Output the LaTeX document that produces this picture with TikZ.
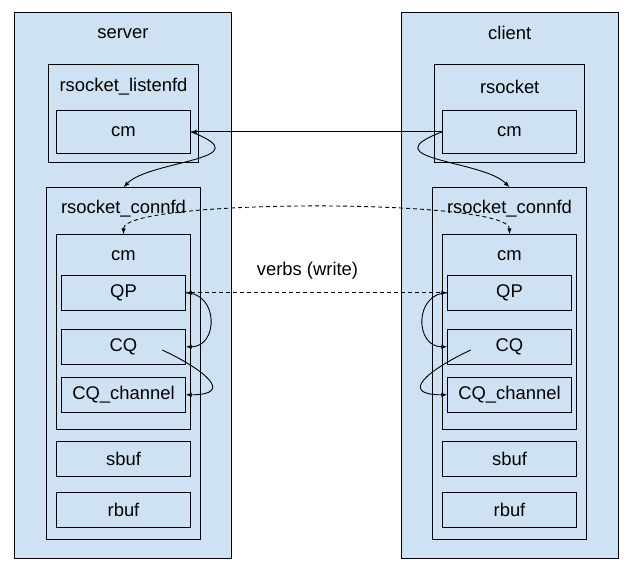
\documentclass[tikz,border=0pt]{standalone}
\usepackage{fontspec}
\setmainfont{Liberation Sans}
\usetikzlibrary{arrows.meta,calc}
\definecolor{boxfill}{HTML}{CFE2F3}
\begin{document}
\begin{tikzpicture}[x=1pt,y=-1pt,
  font=\fontsize{18.4}{22}\selectfont,
  box/.style={draw=black, line width=1pt, fill=boxfill, rectangle,
              inner sep=0pt, outer sep=0pt},
  host/.style={box, minimum width=217pt, minimum height=546pt},
  sock/.style={box, minimum width=150.5pt, minimum height=98pt},
  conn/.style={box, minimum width=154.4pt, minimum height=352pt},
  cmbox/.style={box, minimum width=134.4pt, minimum height=43pt},
  cmgroup/.style={box, minimum width=134.4pt, minimum height=195pt},
  queue/.style={box, minimum width=124.4pt, minimum height=35pt},
  buf/.style={box, minimum width=134.4pt, minimum height=35pt},
  title/.style={inner sep=0pt, anchor=center},
  tip/.tip={Latex[length=6pt,width=4.5pt]},
  link/.style={line width=0.9pt, -tip},
  both/.style={line width=0.9pt, tip-tip, dash pattern=on 4pt off 3pt}
]
\useasboundingbox (0,0) rectangle (634,573);

% ---- server side ----
\node[host] (S) at (123,285) {};
\node[title] (ST) at (123,33.3) {server};
\node[sock] (SL) at (123.5,113.3) {};
\node[title] (SLT) at (123.5,86.5) {rsocket\_listenfd};
\node[cmbox] (Scm) at (123.5,131.8) {cm};
\node[conn] (SC) at (123.5,363.3) {};
\node[title] (SCT) at (123.5,209) {rsocket\_connfd};
\node[cmgroup] (Scm2) at (123.5,331.8) {};
\node[title] (Scm2T) at (123.5,256) {cm};
\node[queue] (Sqp) at (123.5,292.8) {QP};
\node[queue] (Scq) at (123.5,346.8) {CQ};
\node[queue] (Sch) at (123.5,394.8) {CQ\_channel};
\node[buf] (Ssb) at (123.5,458.8) {sbuf};
\node[buf] (Srb) at (123.5,509.8) {rbuf};

% ---- client side ----
\node[host] (C) at (509.7,285) {};
\node[title] (CT) at (509.7,33.3) {client};
\node[sock] (CL) at (509.7,113.3) {};
\node[title] (CLT) at (509.7,86.5) {rsocket};
\node[cmbox] (Ccm) at (509.5,131.8) {cm};
\node[conn] (CC) at (509.5,363.3) {};
\node[title] (CCT) at (509.5,209) {rsocket\_connfd};
\node[cmgroup] (Ccm2) at (509.5,331.8) {};
\node[title] (Ccm2T) at (509.5,256) {cm};
\node[queue] (Cqp) at (509.5,292.8) {QP};
\node[queue] (Ccq) at (509.5,346.8) {CQ};
\node[queue] (Cch) at (509.5,394.8) {CQ\_channel};
\node[buf] (Csb) at (509.5,458.8) {sbuf};
\node[buf] (Crb) at (509.5,509.8) {rbuf};

\node[title] (verbs) at (307.5,271) {verbs (write)};

% ---- connection setup ----
\draw[link] (Ccm.west) -- (Scm.east);
\draw[link] (Scm.east) .. controls +(74,28) and +(26.5,-27.3) .. (SC.north);
\draw[link] (Ccm.west) .. controls +(-74,28) and +(-26.5,-27.3) .. (CC.north);
\draw[both] (Scm2.north) .. controls +(0,-36) and +(0,-36) .. (Ccm2.north);

% ---- data path ----
\draw[both] (Sqp.east) -- (Cqp.west);

\draw[link] (Sqp.east) .. controls +(33,0) and +(33,0) .. (Scq.east);
\coordinate (Sq0) at ($(Scq.center)+(38.8,3.2)$);
\draw[link] (Sq0) .. controls +(42.7,20) and +(49.3,0) .. (Sch.east);

\draw[link] (Cqp.west) .. controls +(-33,0) and +(-33,0) .. (Ccq.west);
\coordinate (Cq0) at ($(Ccq.center)+(-38.8,3.2)$);
\draw[link] (Cq0) .. controls +(-42.7,20) and +(-49.3,0) .. (Cch.west);
\end{tikzpicture}
\end{document}
